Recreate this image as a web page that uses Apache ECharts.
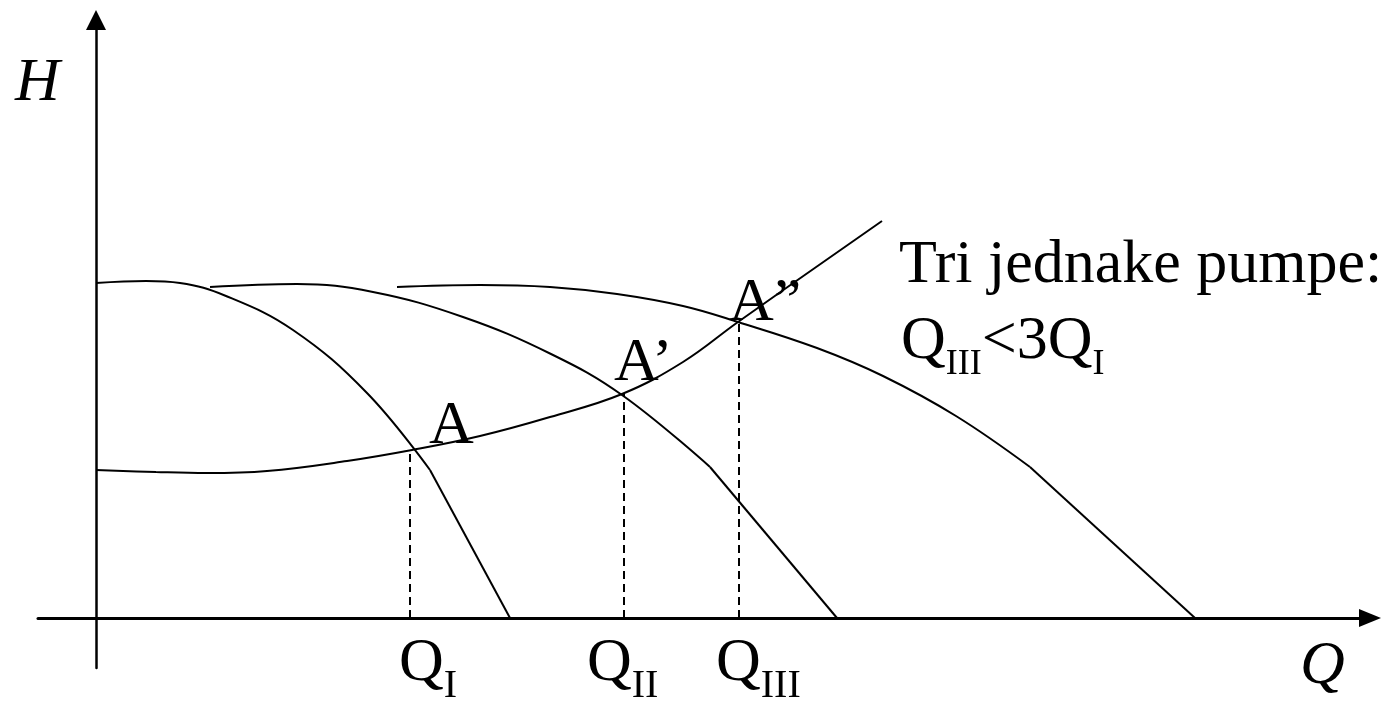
<!DOCTYPE html>
<html>
<head>
<meta charset="utf-8">
<script src="https://cdn.jsdelivr.net/npm/echarts@6/dist/echarts.min.js"></script>
<style>
  html, body { margin: 0; padding: 0; background: #fff; }
  #chart { width: 1400px; height: 707px; }
</style>
</head>
<body>
<div id="chart"></div>
<script>
// Q-H curves, values in drawing units (Q right, H up from the origin).
// Each pump curve ends with a straight run down to the Q axis (last point).
const singlePump = [[0, 335], [50, 337], [84, 335], [130, 322], [197, 288], [271, 225], [334, 148], [414, 0]];
const twoPumps = [[114, 331], [201, 334], [277, 326], [367, 301], [455, 264], [526, 223], [614, 151], [741, 0]];
const threePumps = [[301, 331], [384, 333], [454, 331], [521, 324], [587, 312], [642, 296], [721, 270],
  [787, 242], [860, 202], [934, 151], [1099, 0]];
const systemCurve = [[0, 148], [60, 146], [111, 145], [171, 147], [251, 157], [316, 168], [384, 182],
  [454, 201], [526, 224], [587, 256], [642, 296], [786, 397]];

// operating points A, A', A''
const operatingQ = [314, 528, 643];
const operatingH = [168, 224, 296];
const qLabels = ["I", "II", "III"];

const FONT = "'Liberation Serif', 'Times New Roman', serif";
const black = "#000";

const chart = echarts.init(document.getElementById("chart"));

const line = (data, smooth, extra) => Object.assign({
  type: "line",
  data: data,
  smooth: smooth,
  showSymbol: false,
  silent: true,
  lineStyle: { color: black, width: 2 },
}, extra || {});

// smooth head of the pump curve + straight tail to the axis
const pumpCurve = (data) => [
  line(data.slice(0, -1), 0.4),
  line(data.slice(-2), false),
];

const dropLines = operatingQ.map((q, i) =>
  line([[q, 0], [q, operatingH[i]]], false, { lineStyle: { color: black, width: 2, type: [8, 5] } })
);

const subStyle = (size, pad) => ({
  m: { fontSize: 62, lineHeight: 62, verticalAlign: "top", fontFamily: FONT, fill: black },
  s: { fontSize: size, lineHeight: size, verticalAlign: "top", padding: [pad, 0, 0, 0], fontFamily: FONT, fill: black },
});

const plainText = (x, y, text, italic) => ({
  type: "text",
  left: x,
  top: y,
  style: {
    text: text,
    fontSize: 62,
    fontFamily: FONT,
    fontStyle: italic ? "italic" : "normal",
    fill: black,
    verticalAlign: "top",
  },
});

const qTextX = [399, 587, 716];

chart.setOption({
  animation: false,
  backgroundColor: "#fff",
  grid: { left: 38, right: 30, top: 20, bottom: 39 },
  xAxis: {
    type: "value",
    min: -58,
    max: 1274,
    axisLine: {
      onZero: true,
      symbol: ["none", "triangle"],
      symbolSize: [18, 22],
      lineStyle: { color: black, width: 3 },
    },
    axisTick: { show: false },
    axisLabel: { show: false },
    splitLine: { show: false },
  },
  yAxis: {
    type: "value",
    min: -50,
    max: 598,
    axisLine: {
      show: true,
      onZero: true,
      symbol: ["none", "triangle"],
      symbolSize: [20, 20],
      lineStyle: { color: black, width: 2.5 },
    },
    axisTick: { show: false },
    axisLabel: { show: false },
    splitLine: { show: false },
  },
  series: []
    .concat(pumpCurve(singlePump), pumpCurve(twoPumps), pumpCurve(threePumps))
    .concat([line(systemCurve, 0.4)])
    .concat(dropLines),
  graphic: [
    plainText(15, 53, "H", true),
    plainText(1300, 636, "Q", true),
    plainText(429, 396, "A"),
    plainText(614, 333, "A\u2019"),
    plainText(729, 273, "A\u201D"),
    plainText(899, 235, "Tri jednake pumpe:"),
    {
      type: "text",
      left: 901,
      top: 311,
      style: {
        text: "{m|Q}{s|III}{m|<3Q}{s|I}",
        rich: subStyle(36, 36),
        verticalAlign: "top",
      },
    },
  ].concat(qLabels.map((lab, i) => ({
    type: "text",
    left: qTextX[i],
    top: 633,
    style: {
      text: "{m|Q}{s|" + lab + "}",
      rich: subStyle(40, 33),
      verticalAlign: "top",
    },
  }))),
});
</script>
</body>
</html>
